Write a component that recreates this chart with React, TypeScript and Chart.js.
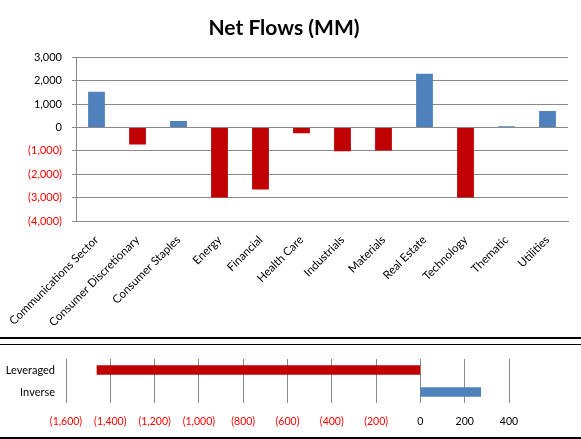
import React, { useEffect, useRef } from 'react';
import { Chart, registerables } from 'chart.js';

Chart.register(...registerables);

const sectors = [
  'Communications Sector',
  'Consumer Discretionary',
  'Consumer Staples',
  'Energy',
  'Financial',
  'Health Care',
  'Industrials',
  'Materials',
  'Real Estate',
  'Technology',
  'Thematic',
  'Utilities',
];
const sectorFlows = [1520, -730, 270, -3000, -2650, -245, -1015, -985, 2290, -3000, 50, 700];

const fundTypes = ['Leveraged', 'Inverse'];
const fundTypeFlows = [-1460, 272];

const titleText = 'Net Flows (MM)';

const BLUE = '#4F81BD';
const RED = '#C00000';
const TICK_RED = '#FF0000';
const GRID = '#8a8a8a';
const FONT = 'Lato, "Open Sans", sans-serif';

const fmt = (v: number | string) => {
  const n = Number(v);
  const s = Math.abs(n).toLocaleString('en-US');
  return n < 0 ? `(${s})` : s;
};

const colorFor = (vals: number[]) => vals.map((v) => (v < 0 ? RED : BLUE));

export default function App() {
  const topRef = useRef<HTMLCanvasElement | null>(null);
  const botRef = useRef<HTMLCanvasElement | null>(null);

  useEffect(() => {
    const top = new Chart(topRef.current as HTMLCanvasElement, {
      type: 'bar',
      data: {
        labels: sectors,
        datasets: [
          {
            data: sectorFlows,
            backgroundColor: colorFor(sectorFlows),
            barPercentage: 0.41,
            categoryPercentage: 1,
          },
        ],
      },
      options: {
        animation: false,
        responsive: false,
        layout: { padding: { left: 0, right: 13, top: 0, bottom: 0 } },
        plugins: {
          legend: { display: false },
          tooltip: { enabled: false },
          title: {
            display: true,
            text: titleText,
            color: '#000',
            font: { family: FONT, size: 21, weight: 'bold' },
            padding: { top: 16, bottom: 16 },
          },
        },
        scales: {
          x: {
            grid: { display: false },
            border: { display: true, color: GRID },
            ticks: {
              autoSkip: false,
              maxRotation: 45,
              minRotation: 45,
              color: '#000',
              font: { family: FONT, size: 11.5 },
              padding: 4,
            },
            afterFit: (s: any) => {
              s.height = 114;
            },
          },
          y: {
            min: -4000,
            max: 3000,
            ticks: {
              stepSize: 1000,
              callback: (v: any) => fmt(v),
              color: (ctx: any) => (ctx.tick && ctx.tick.value < 0 ? TICK_RED : '#000'),
              font: { family: FONT, size: 11 },
              padding: 10,
            },
            grid: { color: GRID, tickLength: 4 },
            border: { display: true, color: GRID },
            afterFit: (s: any) => {
              s.width = 76;
            },
          },
        },
      },
    } as any);

    const bot = new Chart(botRef.current as HTMLCanvasElement, {
      type: 'bar',
      data: {
        labels: fundTypes,
        datasets: [
          {
            data: fundTypeFlows,
            backgroundColor: colorFor(fundTypeFlows),
            barThickness: 9,
          },
        ],
      },
      options: {
        indexAxis: 'y',
        animation: false,
        responsive: false,
        layout: { padding: { left: 0, right: 72, top: 13, bottom: 0 } },
        plugins: {
          legend: { display: false },
          tooltip: { enabled: false },
        },
        scales: {
          x: {
            min: -1600,
            max: 400,
            ticks: {
              stepSize: 200,
              callback: (v: any) => fmt(v),
              color: (ctx: any) => (ctx.tick && ctx.tick.value < 0 ? TICK_RED : '#000'),
              font: { family: FONT, size: 10.5 },
              padding: 12,
              maxRotation: 0,
              autoSkip: false,
            },
            grid: { color: GRID, drawTicks: false },
            border: { display: false },
            afterFit: (s: any) => {
              s.height = 33;
            },
          },
          y: {
            grid: { display: false, drawTicks: false },
            border: { display: false },
            ticks: {
              color: '#000',
              font: { family: FONT, size: 11 },
              padding: 11,
            },
            afterFit: (s: any) => {
              s.width = 66;
              s.paddingTop = 0;
              s.paddingBottom = 0;
            },
          },
        },
      },
    } as any);

    return () => {
      top.destroy();
      bot.destroy();
    };
  }, []);

  return (
    <div
      style={{
        position: 'absolute',
        left: 0,
        top: 0,
        width: 581,
        height: 439,
        background: '#fff',
        overflow: 'hidden',
      }}
    >
      <canvas
        ref={topRef}
        width={581}
        height={335}
        style={{ position: 'absolute', left: 0, top: 0, display: 'block' }}
      />
      <div style={{ position: 'absolute', left: 0, top: 337, width: 581, height: 2, background: '#000' }} />
      <div style={{ position: 'absolute', left: 0, top: 344, width: 581, height: 1, background: '#000' }} />
      <canvas
        ref={botRef}
        width={581}
        height={90}
        style={{ position: 'absolute', left: 0, top: 346, display: 'block' }}
      />
      <div style={{ position: 'absolute', left: 0, top: 437, width: 581, height: 2, background: '#000' }} />
    </div>
  );
}
